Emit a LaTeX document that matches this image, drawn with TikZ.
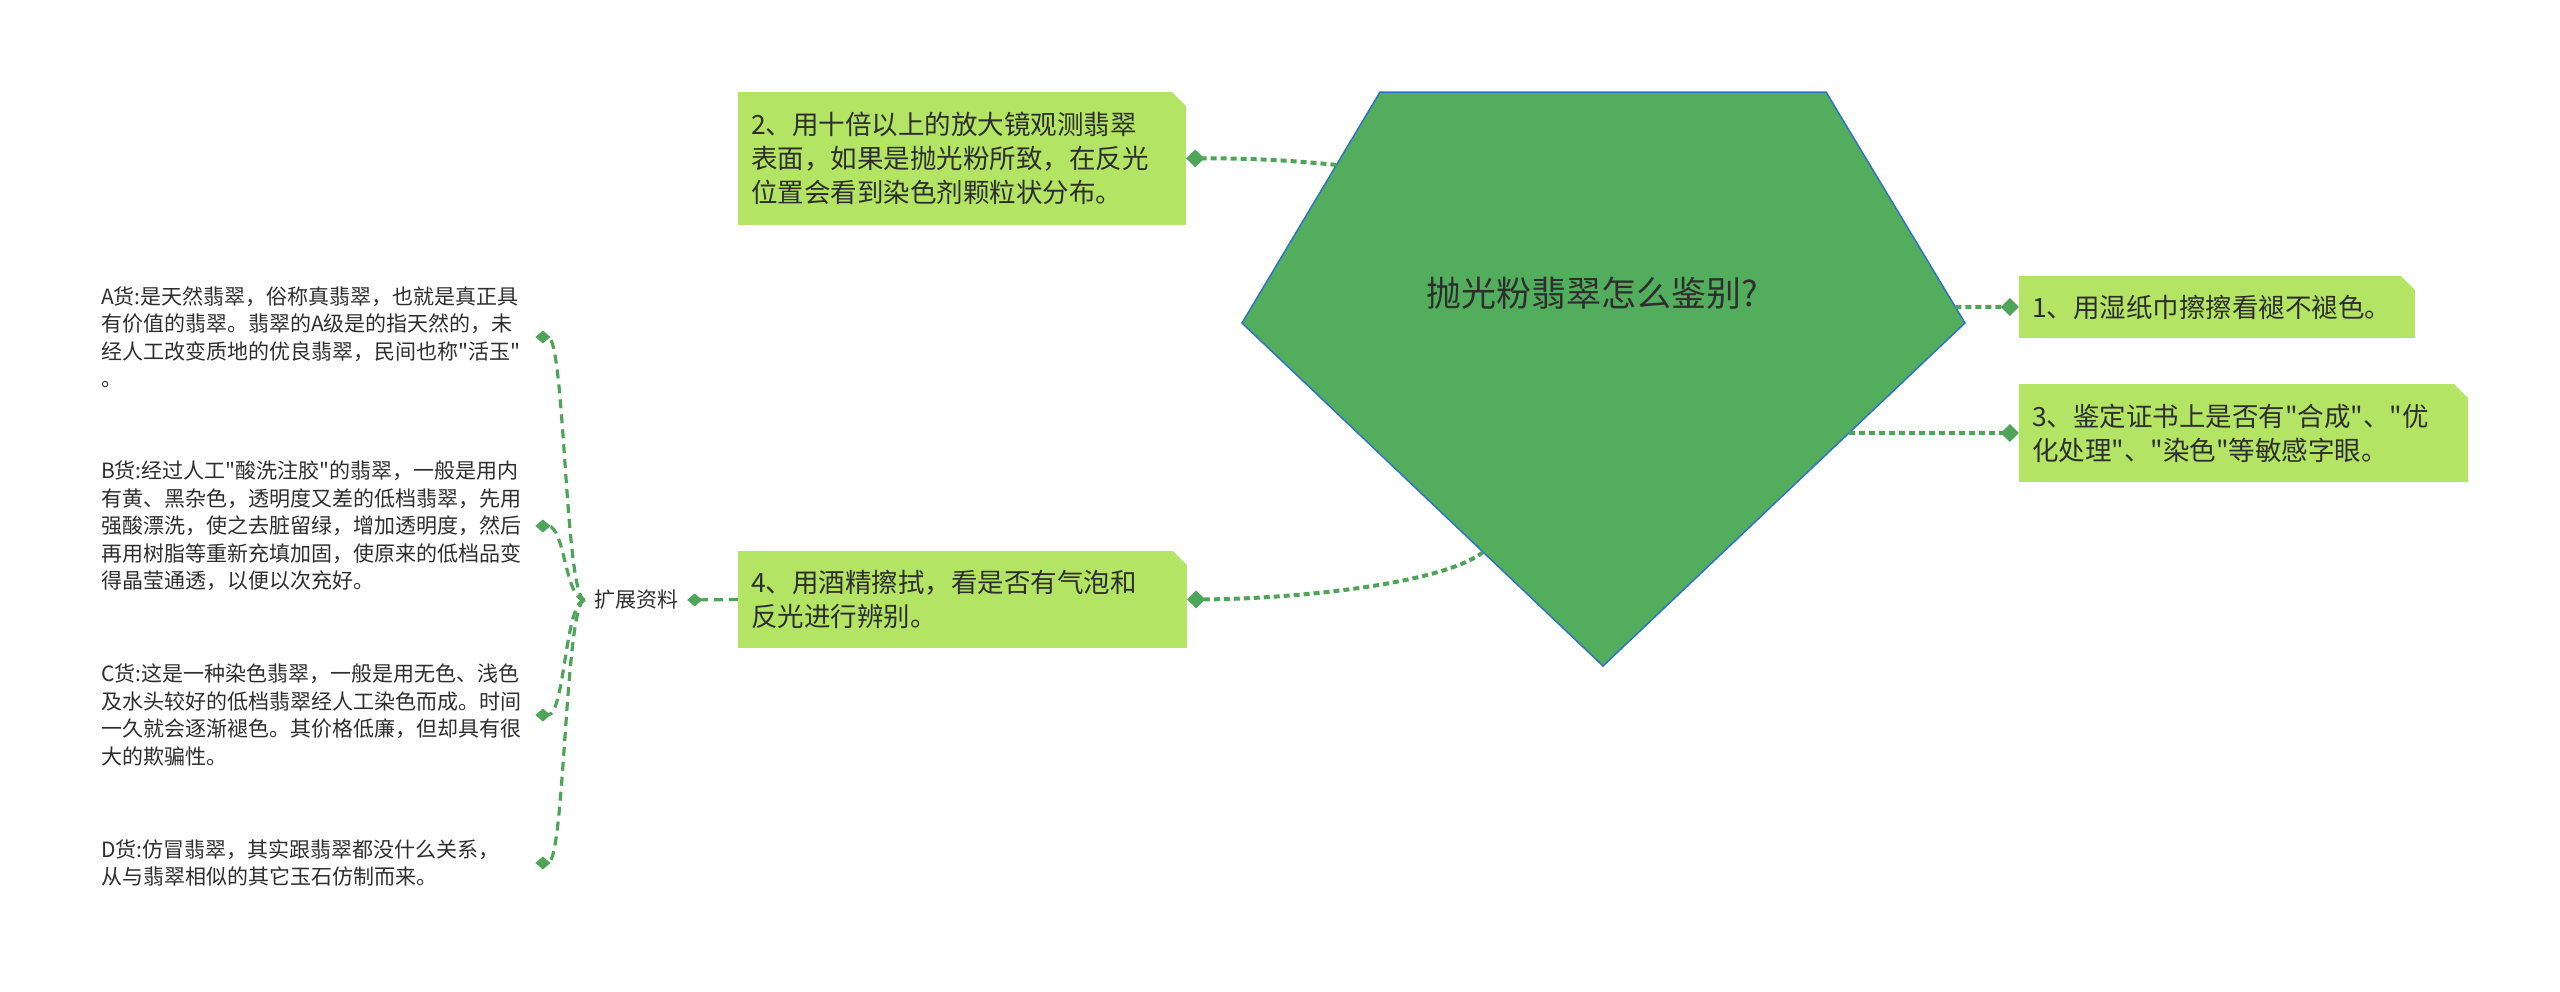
\documentclass[tikz,border=0pt]{standalone}
\usepackage{fontspec}
\newfontfamily\cjk{Noto Sans CJK SC}
\usetikzlibrary{arrows.meta}
\usetikzlibrary{calc}

\definecolor{jade}{HTML}{52AE5C}
\definecolor{lime}{HTML}{B4E463}
\definecolor{linkgreen}{HTML}{4EA55A}
\definecolor{edgeblue}{HTML}{2F72C9}
\definecolor{ink}{HTML}{2E2E2E}

\tikzset{
	tipbox/.style={fill=lime, inner xsep=13pt, inner ysep=0pt, text width=422pt, align=left, text=ink,
		font=\cjk\fontsize{26.5}{34}\selectfont,
		path picture={\fill[white] ($(path picture bounding box.north east)+(-14pt,0pt)$) -- (path picture bounding box.north east) -- ($(path picture bounding box.north east)+(0pt,-14pt)$) -- cycle;}},
	leaf/.style={anchor=west, text width=428pt, inner xsep=6pt, align=left, text=ink, font=\cjk\fontsize{21}{27.5}\selectfont},
	link/.style={draw=linkgreen, line width=4pt, dash pattern=on 6pt off 4pt, -{Diamond[length=18pt,width=18pt]}},
	sublink/.style={draw=linkgreen, line width=3.2pt, dash pattern=on 9pt off 6pt, -{Diamond[length=15pt,width=13pt]}}
}

\begin{document}
\begin{tikzpicture}[x=1pt, y=-1pt]
	\useasboundingbox (0,0) rectangle (2560,991);
	
	% central pentagon
	\coordinate (tl) at (1380,92);
	\coordinate (tr) at (1826,92);
	\coordinate (rgt) at (1965,323);
	\coordinate (bot) at (1603,666);
	\coordinate (lft) at (1242,323);
	\filldraw[fill=jade, draw=edgeblue, line width=1.5pt] (tl) -- (tr) -- (rgt) -- (bot) -- (lft) -- cycle;
	\node[text=ink, font=\cjk\fontsize{35}{42}\selectfont] (title) at (1592,293) {抛光粉翡翠怎么鉴别?};
	
	\coordinate (p1) at ($(tr)!0.93!(rgt)$);
	\coordinate (p2) at ($(tl)!0.316!(lft)$);
	\coordinate (p3) at ($(rgt)!0.32!(bot)$);
	\coordinate (p4) at ($(lft)!0.668!(bot)$);
	
	% methods
	\node[tipbox, text width=370pt, minimum height=62pt] (b1) at (2217,307) {1、用湿纸巾擦擦看褪不褪色。};
	\node[tipbox, minimum height=133pt] (b2) at (962,158.5) {2、用十倍以上的放大镜观测翡翠\\表面，如果是抛光粉所致，在反光\\位置会看到染色剂颗粒状分布。};
	\node[tipbox, text width=423pt, minimum height=98pt] (b3) at (2243.5,433) {3、鉴定证书上是否有"合成"、"优\\化处理"、"染色"等敏感字眼。};
	\node[tipbox, text width=423pt, minimum height=97pt] (b4) at (962.5,599.5) {4、用酒精擦拭，看是否有气泡和\\反光进行辨别。};
	
	\draw[link] (p1) -- (b1.west);
	\draw[link] (p2) .. controls (1290,160) and (1240,158) .. (b2.east);
	\draw[link] (p3) -- (b3.west);
	\draw[link] (p4) .. controls (1440,585) and (1290,599) .. (b4.east);
	
	% extra material
	\node[text=ink, inner xsep=9pt, font=\cjk\fontsize{21}{24}\selectfont] (ext) at (636,600) {扩展资料};
	\draw[sublink] (b4.west) -- (ext.east);
	
	\node[leaf] (ga) at (95,337) {A货:是天然翡翠，俗称真翡翠，也就是真正具\\有价值的翡翠。翡翠的A级是的指天然的，未\\经人工改变质地的优良翡翠，民间也称"活玉"\\。};
	\node[leaf] (gb) at (95,526) {B货:经过人工"酸洗注胶"的翡翠，一般是用内\\有黄、黑杂色，透明度又差的低档翡翠，先用\\强酸漂洗，使之去脏留绿，增加透明度，然后\\再用树脂等重新充填加固，使原来的低档品变\\得晶莹通透，以便以次充好。};
	\node[leaf] (gc) at (95,715) {C货:这是一种染色翡翠，一般是用无色、浅色\\及水头较好的低档翡翠经人工染色而成。时间\\一久就会逐渐褪色。其价格低廉，但却具有很\\大的欺骗性。};
	\node[leaf] (gd) at (95,863) {D货:仿冒翡翠，其实跟翡翠都没什么关系，\\从与翡翠相似的其它玉石仿制而来。};
	
	\draw[sublink] (ext.west) .. controls (565,600) and (565,337) .. (ga.east);
	\draw[sublink] (ext.west) .. controls (565,600) and (565,526) .. (gb.east);
	\draw[sublink] (ext.west) .. controls (565,600) and (565,715) .. (gc.east);
	\draw[sublink] (ext.west) .. controls (565,600) and (565,863) .. (gd.east);
\end{tikzpicture}
\end{document}
